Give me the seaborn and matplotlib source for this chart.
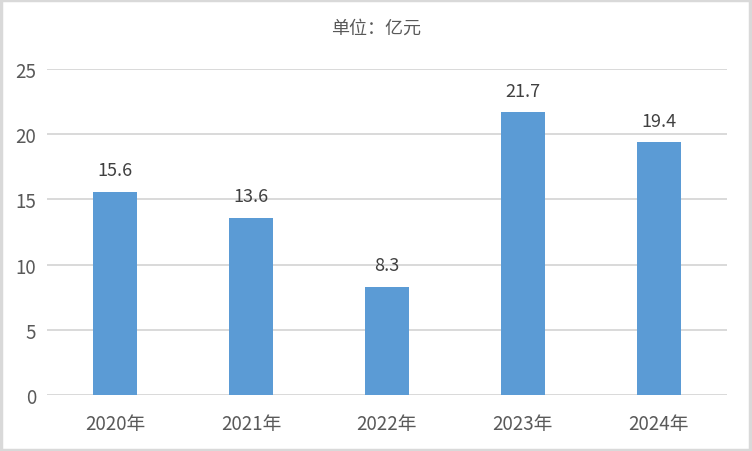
import matplotlib
matplotlib.use("Agg")
import matplotlib.pyplot as plt
import seaborn as sns
import pandas as pd

years = ["2020年", "2021年", "2022年", "2023年", "2024年"]
values = [15.6, 13.6, 8.3, 21.7, 19.4]
yticks = [0, 5, 10, 15, 20, 25]

sns.set_style("white")
plt.rcParams['font.family'] = ['Noto Sans CJK SC', 'DejaVu Sans']

df = pd.DataFrame({"year": years, "value": values})

fig = plt.figure(figsize=(7.52, 4.52), dpi=100)
ax = fig.add_axes([0.0625, 0.124, 0.904, 0.721])
sns.barplot(data=df, x="year", y="value", color="#5B9BD5", saturation=1,
            width=0.32, ax=ax, zorder=3, linewidth=0)

ax.set_ylim(0, 25)
ax.set_yticks(yticks)
ax.yaxis.grid(True, color="#d9d9d9", linewidth=1.4, zorder=0)
ax.set_axisbelow(True)
for s in ax.spines.values():
    s.set_visible(False)
ax.tick_params(axis="both", length=0, labelsize=13.5, colors="#595959")
ax.tick_params(axis="x", pad=13)
ax.tick_params(axis="y", pad=8)
ax.set_xlabel("")
ax.set_ylabel("")

for c in ax.containers:
    ax.bar_label(c, labels=[f"{v:.1f}" for v in values], padding=9,
                 fontsize=13, color="#404040")

fig.text(0.5, 0.937, "单位：亿元", ha="center", va="center", fontsize=13, color="#595959")

# outer frame
fig.patches.append(plt.Rectangle((0.001, 0.002), 0.997, 0.996, transform=fig.transFigure,
                                 fill=False, edgecolor="#d9d9d9", linewidth=2.5))

fig.savefig("out.png", dpi=100)
